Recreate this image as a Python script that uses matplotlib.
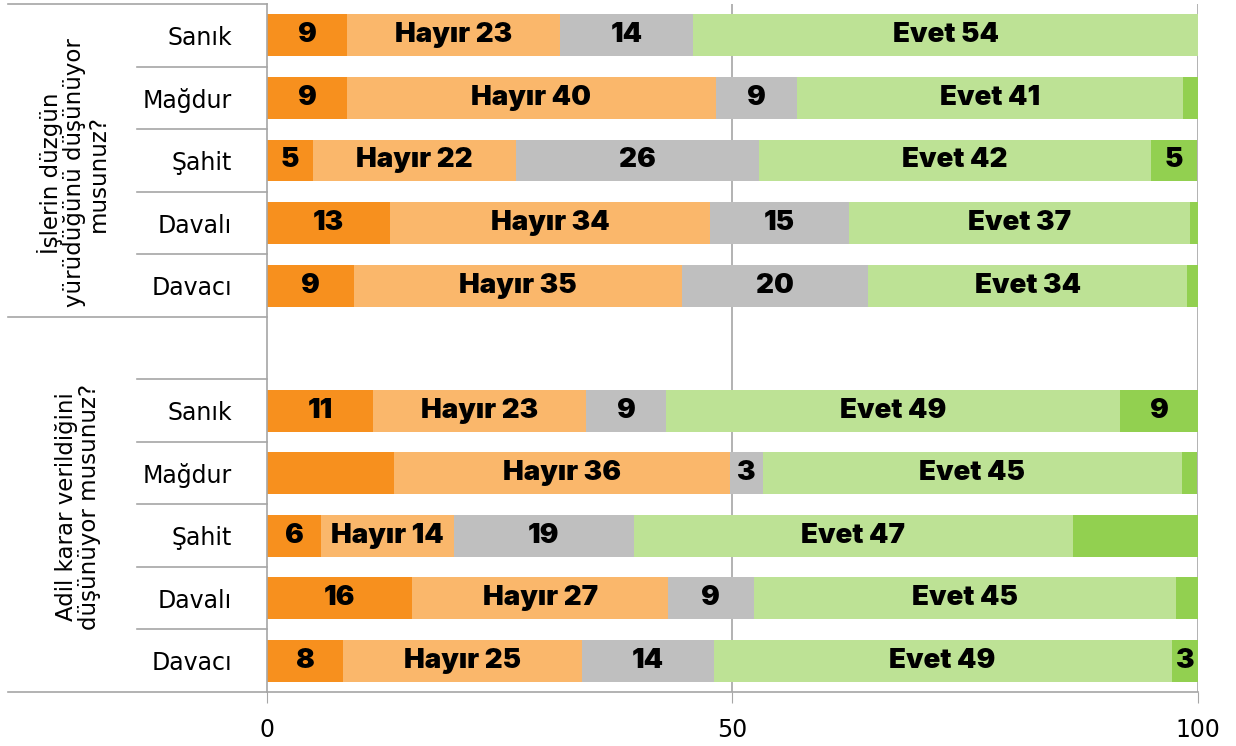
import numpy as np
import matplotlib.pyplot as plt

# rows top to bottom; the empty row separates the two questions
categories = ['Sanık', 'Mağdur', 'Şahit', 'Davalı', 'Davacı', '',
              'Sanık', 'Mağdur', 'Şahit', 'Davalı', 'Davacı']

kesin_hayir = [8.6, 8.6, 4.9, 13.2, 9.3, 0, 11.4, 13.7, 5.8, 15.6, 8.2]
hayir = [22.9, 39.6, 21.9, 34.4, 35.3, 0, 22.9, 36.1, 14.3, 27.5, 25.6]
bilmiyor = [14.3, 8.7, 26.1, 14.9, 20.0, 0, 8.6, 3.5, 19.3, 9.2, 14.2]
evet = [54.3, 41.5, 42.1, 36.7, 34.3, 0, 48.7, 45.0, 47.2, 45.4, 49.2]
kesin_evet = [0, 1.6, 4.9, 0.8, 1.1, 0, 8.5, 1.6, 13.4, 2.3, 2.9]

lab_kesin_hayir = ['9', '9', '5', '13', '9', '', '11', '', '6', '16', '8']
lab_hayir = ['Hayır 23', 'Hayır 40', 'Hayır 22', 'Hayır 34', 'Hayır 35', '',
             'Hayır 23', 'Hayır 36', 'Hayır 14', 'Hayır 27', 'Hayır 25']
lab_bilmiyor = ['14', '9', '26', '15', '20', '', '9', '3', '19', '9', '14']
lab_evet = ['Evet 54', 'Evet 41', 'Evet 42', 'Evet 37', 'Evet 34', '',
            'Evet 49', 'Evet 45', 'Evet 47', 'Evet 45', 'Evet 49']
lab_kesin_evet = ['', '', '5', '', '', '', '9', '', '', '', '3']

groups = ['İşlerin düzgün\nyürüdüğünü düşünüyor\nmusunuz?',
          'Adil karar verildiğini\ndüşünüyor musunuz?']

series = [kesin_hayir, hayir, bilmiyor, evet, kesin_evet]
labels = [lab_kesin_hayir, lab_hayir, lab_bilmiyor, lab_evet, lab_kesin_evet]
colors = ['#F7901E', '#FAB76B', '#BFBFBF', '#BDE295', '#92D050']

plt.rcParams['font.family'] = ['DejaVu Sans']

fig = plt.figure(figsize=(12.36, 7.46), dpi=100)
ax = fig.add_axes([0.216, 0.0724, 0.753, 0.922])

y = np.arange(len(categories))
left = np.zeros(len(categories))
for vals, labs, col in zip(series, labels, colors):
    vals = np.array(vals)
    ax.barh(y, vals, left=left, height=0.67, color=col, edgecolor='none', zorder=2)
    for yi, (l, v, t) in enumerate(zip(left, vals, labs)):
        if t:
            ax.text(l + v / 2, yi, t, ha='center', va='center', fontsize=20,
                    family='Inter', fontweight=900, color='black', zorder=3)
    left = left + vals

ax.set_xlim(0, 100)
ax.set_ylim(len(categories) - 0.5, -0.5)
ax.set_xticks([0, 50, 100])
ax.set_xticklabels(['0', '50', '100'], fontsize=17)
ax.set_yticks(y)
ax.set_yticklabels(categories, fontsize=17)
ax.tick_params(axis='y', length=0, pad=25)
ax.tick_params(axis='x', length=8, color='#A6A6A6', pad=11)

for s in ['top', 'right']:
    ax.spines[s].set_visible(False)
for s in ['left', 'bottom']:
    ax.spines[s].set_color('#A6A6A6')
    ax.spines[s].set_linewidth(1.2)

for xv in [50, 100]:
    ax.axvline(xv, color='#A6A6A6', lw=1.2, zorder=1)

tr = ax.get_yaxis_transform()
# category separators
for yb in [0.5, 1.5, 2.5, 3.5, 5.5, 6.5, 7.5, 8.5, 9.5]:
    ax.plot([-0.14, 0], [yb, yb], transform=tr, color='#A6A6A6', lw=1.2, clip_on=False)
# group separators
for yb in [-0.5, 4.5, 10.5]:
    ax.plot([-0.278, 0], [yb, yb], transform=tr, color='#A6A6A6', lw=1.2, clip_on=False)

ax.text(-0.208, 2.2, groups[0], transform=tr, rotation=90, ha='center', va='center',
        fontsize=16.5, linespacing=1.02)
ax.text(-0.203, 7.54, groups[1], transform=tr, rotation=90, ha='center', va='center',
        fontsize=16.5, linespacing=1.02)

fig.savefig('out.png', dpi=100)
